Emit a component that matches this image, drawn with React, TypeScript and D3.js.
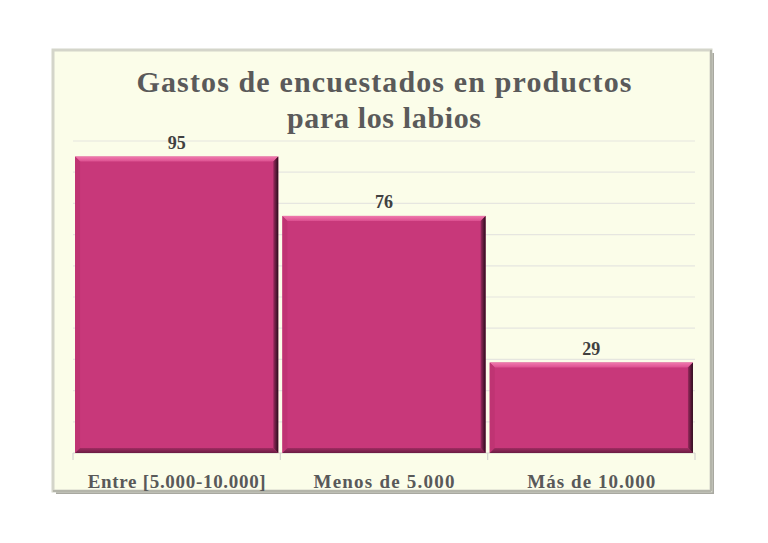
import React from 'react'
import * as d3 from 'd3'

const categories = ['Entre [5.000-10.000]', 'Menos de 5.000', 'Más de 10.000']
const values = [95, 76, 29]
const yTicks = [0, 10, 20, 30, 40, 50, 60, 70, 80, 90, 100]
const titleLines = ['Gastos de encuestados en productos', 'para los labios']

const W = 768
const H = 543
const plot = { left: 73, right: 695, top: 141, bottom: 453 }
const FONT = '"Liberation Serif", "DejaVu Serif", serif'
const BEV = 5
// widths the title lines and category labels take in the reference (Garamond is wider than Times)
const titleWidths = [495, 194]
const catWidths = [178, 141, 128]

export default function App() {
  const x = d3.scaleBand<string>()
    .domain(categories)
    .range([plot.left, plot.right])
    .paddingInner(0.02)
    .paddingOuter(0.01)
  const y = d3.scaleLinear().domain([0, 100]).range([plot.bottom, plot.top])
  const bounds = [plot.left, ...categories.map((_, i) => plot.left + (i + 1) * (plot.right - plot.left) / categories.length)]

  return (
    <svg width={W} height={H} style={{ position: 'absolute', left: 0, top: 0, background: '#fff' }}>
      <defs>
        <linearGradient id="rightBev" x1="0" x2="1" y1="0" y2="0">
          <stop offset="0" stopColor="#9a2a5e" />
          <stop offset="1" stopColor="#2a0c1c" />
        </linearGradient>
        <linearGradient id="topBev" x1="0" x2="0" y1="0" y2="1">
          <stop offset="0" stopColor="#f07aae" />
          <stop offset="1" stopColor="#dc4f90" />
        </linearGradient>
        <linearGradient id="botBev" x1="0" x2="0" y1="0" y2="1">
          <stop offset="0" stopColor="#a02c62" />
          <stop offset="1" stopColor="#6a1c42" />
        </linearGradient>
      </defs>

      {/* chart frame with shadow */}
      <rect x={56} y={53} width={658} height={441} fill="#a8a8a0" />
      <rect x={53} y={50} width={658} height={441} fill="#fbfde9" stroke="#d4d5ca" strokeWidth={3} />
      <line x1={711} y1={50} x2={711} y2={491} stroke="#b4b5aa" strokeWidth={2} />
      <line x1={53} y1={491} x2={711} y2={491} stroke="#b4b5aa" strokeWidth={2} />

      {/* gridlines */}
      {yTicks.map(t => (
        <line key={t} x1={plot.left} x2={plot.right} y1={y(t)} y2={y(t)}
          stroke={t === 0 ? '#d6d6d0' : '#e6e6e0'} strokeWidth={1.2} />
      ))}
      {bounds.map((b, i) => (
        <line key={i} x1={b} x2={b} y1={plot.bottom} y2={plot.bottom + 7} stroke="#d6d6d0" strokeWidth={1.2} />
      ))}

      {/* bars with bevel */}
      {categories.map((c, i) => {
        const x0 = x(c)!
        const x1 = x0 + x.bandwidth()
        const y0 = y(values[i])
        const y1 = y(0)
        return (
          <g key={c}>
            <rect x={x0} y={y0} width={x1 - x0} height={y1 - y0} fill="#c8387a" />
            <polygon points={`${x0},${y0} ${x1},${y0} ${x1 - BEV},${y0 + BEV} ${x0 + BEV},${y0 + BEV}`} fill="url(#topBev)" />
            <polygon points={`${x0},${y0} ${x0 + BEV},${y0 + BEV} ${x0 + BEV},${y1 - BEV} ${x0},${y1}`} fill="#bf3473" />
            <polygon points={`${x0},${y1} ${x0 + BEV},${y1 - BEV} ${x1 - BEV},${y1 - BEV} ${x1},${y1}`} fill="url(#botBev)" />
            <polygon points={`${x1},${y0} ${x1},${y1} ${x1 - BEV},${y1 - BEV} ${x1 - BEV},${y0 + BEV}`} fill="url(#rightBev)" />
            <text x={(x0 + x1) / 2} y={y0 - 8} textAnchor="middle" fontFamily={FONT} fontWeight="bold"
              fontSize={18} fill="#404040">{values[i]}</text>
            <text x={(x0 + x1) / 2} y={488} textAnchor="middle" fontFamily={FONT} fontWeight="bold"
              fontSize={19} fill="#595959" textLength={catWidths[i]} lengthAdjust="spacing">{c}</text>
          </g>
        )
      })}

      {/* title */}
      {titleLines.map((l, i) => (
        <text key={i} x={384} y={92 + i * 36} textAnchor="middle" fontFamily={FONT} fontWeight="bold"
          fontSize={30} fill="#5a5a5a" textLength={titleWidths[i]} lengthAdjust="spacing">{l}</text>
      ))}
    </svg>
  )
}
